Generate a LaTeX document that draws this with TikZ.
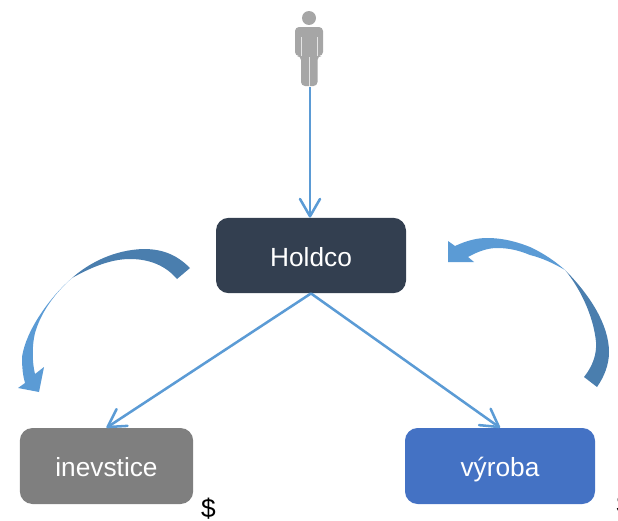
\documentclass[tikz,border=0pt]{standalone}
\usepackage{fontspec}
\setmainfont{Liberation Sans}
\usetikzlibrary{arrows.meta}
\definecolor{holdcodark}{RGB}{51, 63, 80}
\definecolor{investgray}{RGB}{127, 127, 127}
\definecolor{vyrobablue}{RGB}{68, 114, 196}
\definecolor{linkblue}{RGB}{91, 155, 213}
\definecolor{swingdark}{RGB}{74, 126, 174}
\definecolor{figuregray}{RGB}{166, 166, 166}
\tikzset{
  unitbox/.style={rounded corners=9.5pt, text=white, font=\fontsize{19.7}{22}\selectfont, inner sep=0pt, text height=15pt, text depth=0pt},
  link/.style={-{Straight Barb[length=13pt,width=15pt,round]}, linkblue, line width=1.9pt},
  money/.style={font=\fontsize{19.7}{22}\selectfont, text=black, inner sep=0pt},
}
\begin{document}
\begin{tikzpicture}[x=0.75pt,y=-0.75pt]
\useasboundingbox (0,0) rectangle (618,521);
% figure on top
\fill[figuregray] (309,18) circle (5.25pt);
\fill[figuregray, rounded corners=3pt] (295,56) -- (295,27) -- (323,27) -- (323,56) -- (317.5,56) -- (317.5,86) -- (301,86) -- (301,56) -- cycle;
\draw[white, opacity=0.7, line width=0.45pt] (301,37) -- (301,56) (317.5,37) -- (317.5,56) (309,57) -- (309,86);
\coordinate (figure) at (310,87);
% boxes
\node[unitbox, fill=holdcodark, minimum width=142.5pt, minimum height=56.5pt, text height=16pt] (holdco) at (311,255.5) {Holdco};
\node[unitbox, fill=investgray, minimum width=130pt, minimum height=57pt] (inevstice) at (106.5,466) {inevstice};
\node[unitbox, fill=vyrobablue, minimum width=142.5pt, minimum height=57pt] (vyroba) at (500,466) {výroba};
% links
\draw[link] (figure) -- (figure |- holdco.north);
\draw[link] (holdco.south) -- (inevstice.north);
\draw[link] (holdco.south) -- (vyroba.north);
% left swing arrow
\fill[swingdark] (190,268) .. controls (175,253) and (160,249) .. (143,249) .. controls (115,250) and (90,262) .. (72,278) .. controls (90,268) and (110,259) .. (130,259) .. controls (150,259) and (166,266) .. (177,279) -- cycle;
\fill[linkblue] (72,278) .. controls (50,297) and (26,330) .. (22,357) .. controls (22,368) and (23,376) .. (25,383) -- (18,388) -- (39,392) -- (44,367) -- (35,374) .. controls (32,362) and (32,345) .. (35,333) .. controls (41,312) and (55,293) .. (72,278) -- cycle;
% right swing arrow
\fill[linkblue] (448,262) -- (448,241) -- (455,246) .. controls (468,240) and (478,238) .. (487,238) .. controls (505,238) and (520,243) .. (530,247) .. controls (545,254) and (556,262) .. (565,270) .. controls (553,263) and (542,258) .. (530,255) .. controls (518,250) and (508,248) .. (497,248) .. controls (487,248) and (477,252) .. (468,257) -- (474,262) -- cycle;
\fill[swingdark] (565,270) .. controls (590,295) and (609,325) .. (609,352) .. controls (609,365) and (604,377) .. (597,387) -- (584,377) .. controls (592,367) and (597,355) .. (596,342) .. controls (594,320) and (583,292) .. (565,270) -- cycle;
% money marks
\node[money] (moneyleft) at (208.5,509) {\$};
\node[money] (moneyright) at (624,505) {\$};
\end{tikzpicture}
\end{document}
